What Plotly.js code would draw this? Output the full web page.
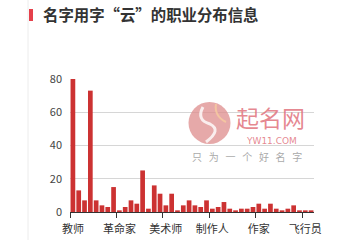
<!DOCTYPE html>
<html>
<head>
<meta charset="utf-8">
<script src="https://cdn.plot.ly/plotly-3.0.1.min.js"></script>
<style>
html,body{margin:0;padding:0;background:#fff;}
#chart{width:360px;height:240px;}
</style>
</head>
<body>
<div id="chart"></div>
<script>
// 职业分布 (42 categories, only every 8th label is shown)
var values = [80, 13, 7, 73, 7, 4, 3, 15, 1, 3, 7, 5, 25, 2, 16, 11, 4, 11, 1, 4, 7, 4, 3, 7,
              2, 3, 6, 2, 1, 2, 2, 3, 5, 2, 5, 2, 1, 2, 4, 1, 1, 1];
var shownLabels = ['教师', '革命家', '美术师', '制作人', '作家', '飞行员'];
var labelStep = 8;
var yTicks = [0, 20, 40, 60, 80];

var xs = values.map(function (v, i) { return i; });
var tickvals = shownLabels.map(function (t, i) { return i * labelStep; });

var font = '"Noto Sans CJK SC", "Noto Sans", sans-serif';
var sp = '\u00A0\u00A0\u00A0';

// plot area in pixels: x 70..314, y 79..212
var L = 70, R = 314, T = 79, B = 212, W = 360, H = 240;
function px(x) { return (x - L) / (R - L); }
function py(y) { return (B - y) / (B - T); }

var data = [{
  type: 'bar',
  x: xs,
  y: values,
  marker: { color: '#cc3232', line: { width: 0 } },
  hoverinfo: 'skip'
}];

var layout = {
  width: W, height: H,
  margin: { l: L, r: W - R, t: T, b: H - B, pad: 0 },
  paper_bgcolor: '#fff', plot_bgcolor: '#fff',
  showlegend: false,
  bargap: 0.19,
  font: { family: font, color: '#444', size: 11 },
  title: {
    text: '名字用字“云”的职业分布信息',
    x: 43 / W, xref: 'container', xanchor: 'left',
    y: 1 - 16 / H, yref: 'container', yanchor: 'middle',
    font: { family: font, size: 15.4, color: '#333', weight: 'bold' }
  },
  xaxis: {
    range: [-0.5, values.length - 0.5],
    tickmode: 'array', tickvals: tickvals, ticktext: shownLabels,
    ticks: '', showgrid: false, zeroline: false,
    showline: true, linecolor: '#333', linewidth: 1,
    ticklabelstandoff: 7,
    tickfont: { family: font, size: 11, color: '#333' },
    minor: { tick0: -0.5, dtick: labelStep, ticks: 'outside', ticklen: 5, tickcolor: '#333', tickwidth: 1, showgrid: false },
    fixedrange: true
  },
  yaxis: {
    range: [0, 80],
    tickmode: 'array', tickvals: yTicks,
    showgrid: true, gridcolor: '#d6d6d6', gridwidth: 1,
    zeroline: false, showline: false, ticks: '',
    ticklabelstandoff: 7,
    tickfont: { family: font, size: 11, color: '#444' },
    fixedrange: true
  },
  shapes: [
    // page border line on the left
    { type: 'line', xref: 'paper', yref: 'paper', x0: px(28), x1: px(28), y0: py(H), y1: py(0),
      line: { color: '#ececec', width: 1 } },
    // red accent mark before title
    { type: 'rect', xref: 'paper', yref: 'paper', x0: px(29), x1: px(33), y0: py(21), y1: py(9),
      fillcolor: '#e5404b', line: { width: 0 } },
    // watermark logo circle
    { type: 'circle', xref: 'paper', yref: 'paper', x0: px(188.5), x1: px(230.5), y0: py(144), y1: py(102),
      fillcolor: 'rgba(222,140,140,0.75)', line: { width: 0 }, layer: 'above' },
    { type: 'path', xref: 'paper', yref: 'paper', layer: 'above',
      path: 'M ' + px(203) + ' ' + py(107) + ' Q ' + px(196) + ' ' + py(120) + ' ' + px(210) + ' ' + py(124) +
            ' Q ' + px(222) + ' ' + py(130) + ' ' + px(206) + ' ' + py(142),
      line: { color: 'rgba(255,255,255,0.8)', width: 3 } },
    { type: 'path', xref: 'paper', yref: 'paper', layer: 'above',
      path: 'M ' + px(216) + ' ' + py(104) + ' Q ' + px(214) + ' ' + py(116) + ' ' + px(226) + ' ' + py(122),
      line: { color: 'rgba(245,200,160,0.9)', width: 2 } }
  ],
  annotations: [
    { text: '起名网', xref: 'paper', yref: 'paper', x: px(270), y: py(117), xanchor: 'center', yanchor: 'middle',
      showarrow: false, font: { family: font, size: 23, color: 'rgba(225,115,125,0.85)' } },
    { text: 'YW11.COM', xref: 'paper', yref: 'paper', x: px(271), y: py(141), xanchor: 'center', yanchor: 'middle',
      showarrow: false, font: { family: 'DejaVu Sans, sans-serif', size: 9, color: 'rgba(225,115,125,0.85)' } },
    { text: ['只', '为', '一', '个', '好', '名', '字'].join(sp), xref: 'paper', yref: 'paper', x: px(247), y: py(156),
      xanchor: 'center', yanchor: 'middle',
      showarrow: false, font: { family: font, size: 10, color: '#aaa' } }
  ]
};

Plotly.newPlot('chart', data, layout, { displayModeBar: false, staticPlot: true });
</script>
</body>
</html>
